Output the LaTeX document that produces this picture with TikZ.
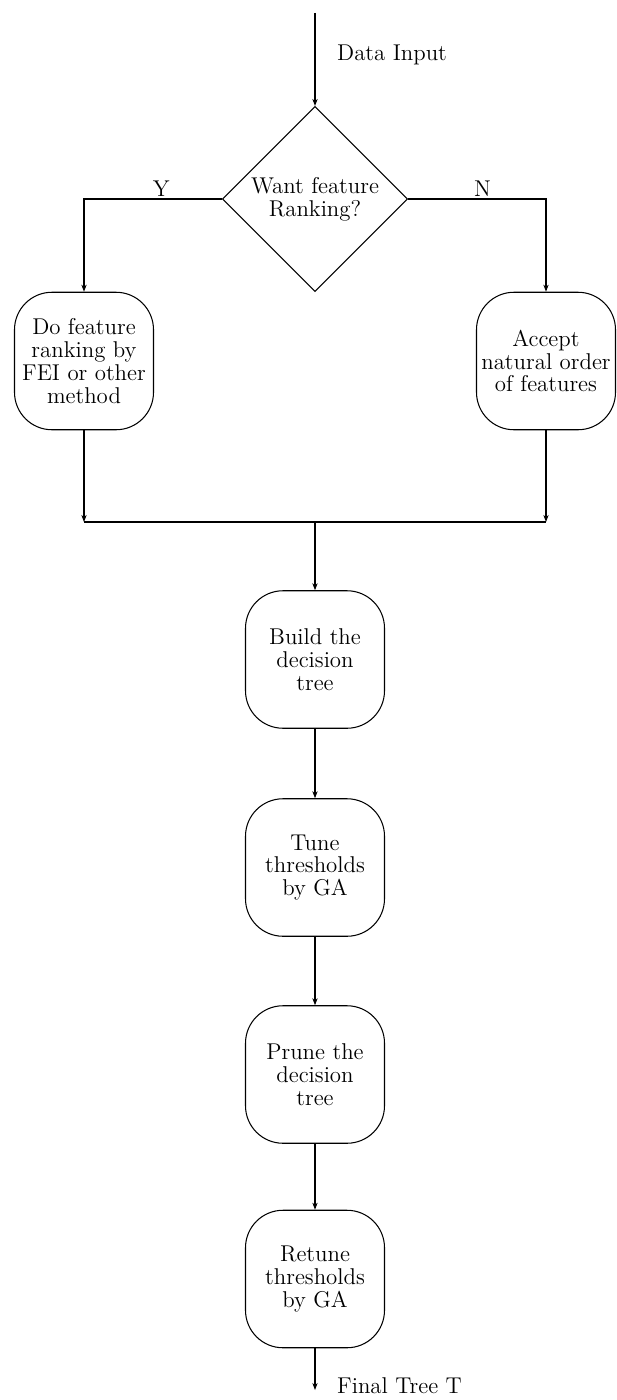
\documentclass[tikz,border=0pt]{standalone}
\usetikzlibrary{shapes.geometric,arrows.meta,positioning}
\begin{document}
\begin{tikzpicture}[
    font=\fontsize{13}{13}\selectfont,
    % Estilos de los nodos
    stepbox/.style={draw, rounded corners=0.75cm, align=center, line width=0.6pt,
        minimum width=2.78cm, minimum height=2.75cm, inner sep=1pt},
    ask/.style={draw, diamond, aspect=1, align=center, line width=0.6pt,
        minimum width=3.7cm, minimum height=3.7cm, inner sep=0pt},
    % Estilos de líneas
    flow/.style={line width=0.6pt, -{Stealth[length=4pt,width=3pt]}},
    plain/.style={line width=0.6pt}
]
\useasboundingbox (0,0) rectangle (12.32,-28);

% Entrada y pregunta
\coordinate (in) at (6.3,-0.26);
\node[ask] (rank) at (6.3,-3.98) {Want feature\\Ranking?};
\node[anchor=west] (data) at (6.62,-1.1) {Data Input};
\draw[flow] (in) -- (rank.north);

% Ramas Y / N
\node[stepbox] (dofei) at (1.68,-7.22) {Do feature\\ranking by\\FEI or other\\method};
\node[stepbox] (accept) at (10.92,-7.22) {Accept\\natural order\\of features};
\draw[flow] (rank.west) -| node[pos=0.22, above, inner sep=1pt] {Y} (dofei.north);
\draw[flow] (rank.east) -| node[pos=0.27, above, inner sep=1pt] {N} (accept.north);

% Union de las ramas
\coordinate (jl) at (1.68,-10.44);
\coordinate (jr) at (10.92,-10.44);
\coordinate (jc) at (6.3,-10.44);
\draw[flow] (dofei.south) -- (jl);
\draw[flow] (accept.south) -- (jr);
\draw[plain] (jl) -- (jr);

% Cadena principal
\node[stepbox] (build) at (6.3,-13.19) {Build the\\decision\\tree};
\node[stepbox] (tune) at (6.3,-17.35) {Tune\\thresholds\\by GA};
\node[stepbox] (prune) at (6.3,-21.49) {Prune the\\decision\\tree};
\node[stepbox] (retune) at (6.3,-25.58) {Retune\\thresholds\\by GA};
\draw[flow] (jc) -- (build.north);
\draw[flow] (build) -- (tune);
\draw[flow] (tune) -- (prune);
\draw[flow] (prune) -- (retune);

% Salida
\coordinate (out) at (6.3,-27.8);
\draw[flow] (retune.south) -- (out);
\node[anchor=west] (final) at (6.62,-27.72) {Final Tree T};
\end{tikzpicture}
\end{document}
